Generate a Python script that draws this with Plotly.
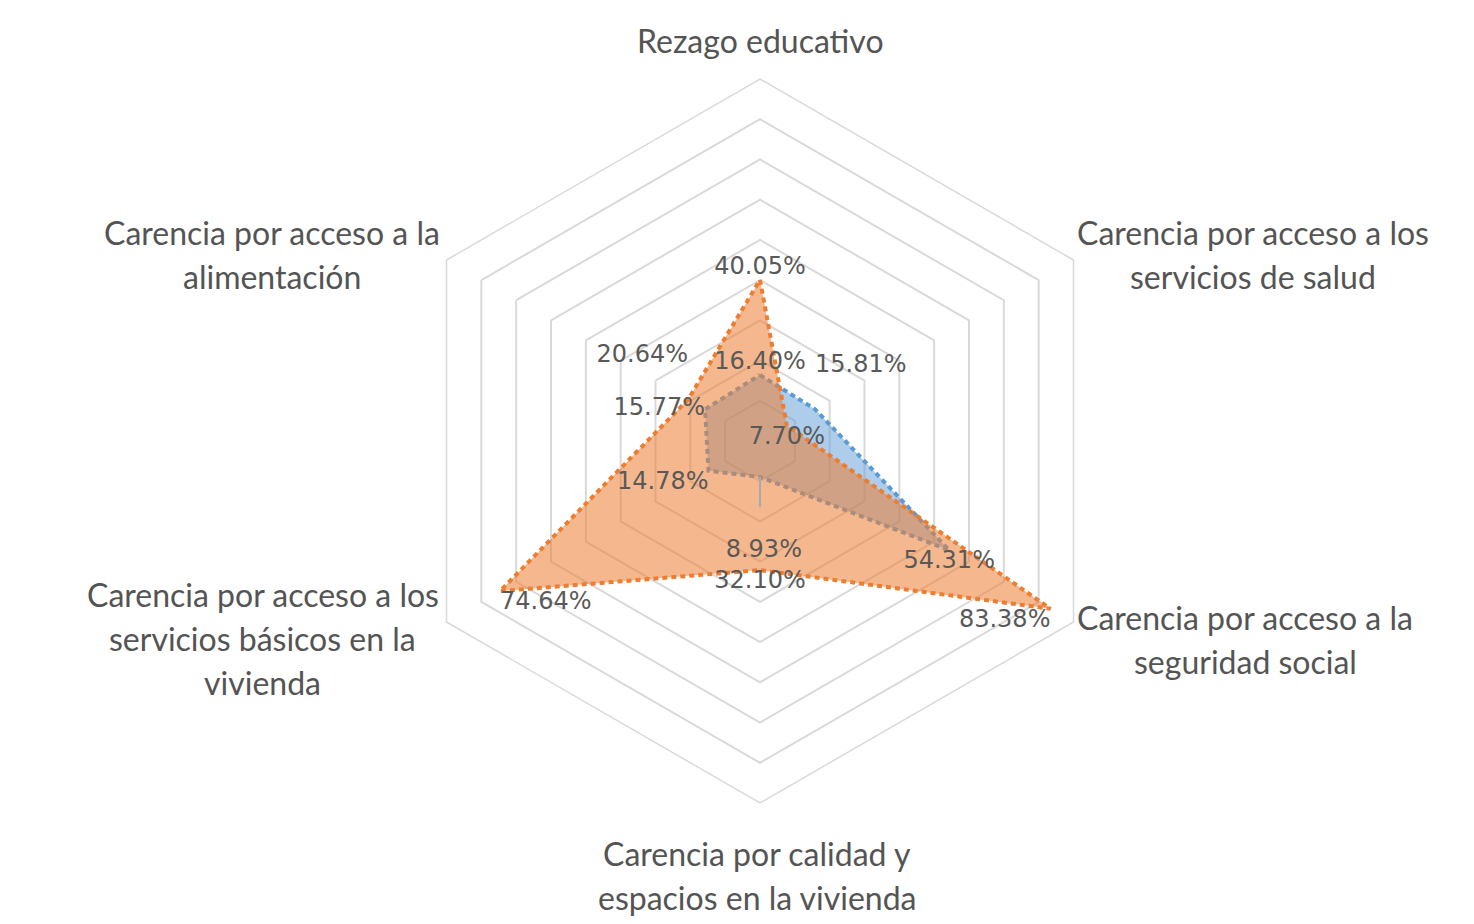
import plotly.graph_objects as go

categories = [
    "Rezago educativo",
    "Carencia por acceso a los servicios de salud",
    "Carencia por acceso a la seguridad social",
    "Carencia por calidad y espacios en la vivienda",
    "Carencia por acceso a los servicios básicos en la vivienda",
    "Carencia por acceso a la alimentación",
]
category_lines = [
    ["Rezago educativo"],
    ["Carencia por acceso a los", "servicios de salud"],
    ["Carencia por acceso a la", "seguridad social"],
    ["Carencia por calidad y", "espacios en la vivienda"],
    ["Carencia por acceso a los", "servicios básicos en la", "vivienda"],
    ["Carencia por acceso a la", "alimentación"],
]
serie_azul = [16.40, 15.81, 54.31, 8.93, 14.78, 15.77]
serie_naranja = [40.05, 7.70, 83.38, 32.10, 74.64, 20.64]
radial_ticks = [10, 20, 30, 40, 50, 60, 70, 80, 90]

# layout / styling (not data)
W, H = 1474, 924
CX, CY, R = 752, 433, 362
label_pos = [(752, 32), (1245, 224), (1237, 609), (749, 845), (255, 586), (264, 224)]
LINE_GAP = 44
pos_azul = ["top center", "top right", "bottom center", "bottom center", "bottom left", "middle left"]
pre_azul = ["", "", "", "<br> <br> ", "", ""]
suf_azul = ["", "<br> ", "", "", "", ""]
pos_naranja = ["top center", "bottom center", "bottom left", "bottom center", "bottom right", "top left"]
pre_naranja = ["", "", "", "", "", ""]
suf_naranja = ["", "", "", "", "", "<br> "]
LEADER_LEN = 7.5

def closed(v):
    return list(v) + [v[0]]

fig = go.Figure()
fig.add_trace(go.Scatterpolar(
    r=closed(serie_azul), theta=closed(categories), mode="lines",
    fill="toself", fillcolor="rgba(91,155,213,0.5)",
    line=dict(color="#5b9bd5", width=4, dash="5px,4px"),
    hoverinfo="skip", showlegend=False))
fig.add_trace(go.Scatterpolar(
    r=closed(serie_naranja), theta=closed(categories), mode="lines",
    fill="toself", fillcolor="rgba(237,125,49,0.55)",
    line=dict(color="#ed7d31", width=4, dash="5px,4px"),
    hoverinfo="skip", showlegend=False))
# leader line for the 8.93% label
fig.add_trace(go.Scatterpolar(
    r=[serie_azul[3], serie_azul[3] + LEADER_LEN], theta=[categories[3]] * 2,
    mode="lines", line=dict(color="#a6abb2", width=2),
    hoverinfo="skip", showlegend=False))
for vals, pos, pre, suf in ((serie_azul, pos_azul, pre_azul, suf_azul),
                            (serie_naranja, pos_naranja, pre_naranja, suf_naranja)):
    fig.add_trace(go.Scatterpolar(
        r=vals, theta=categories, mode="text",
        text=[f"{p}{v:.2f}%{s}" for v, p, s in zip(vals, pre, suf)], textposition=pos,
        textfont=dict(family="DejaVu Sans", size=24, color="#595959"),
        hoverinfo="skip", showlegend=False))

annotations = []
for lines, (lx, ly) in zip(category_lines, label_pos):
    for i, t in enumerate(lines):
        yy = ly + i * LINE_GAP
        annotations.append(dict(
            text=t, x=lx / W, y=1 - yy / H, xref="paper", yref="paper",
            xanchor="center", yanchor="middle", showarrow=False,
            font=dict(family="Lato", size=32, color="#545454")))

fig.update_layout(
    width=W, height=H,
    margin=dict(l=0, r=0, t=0, b=0),
    paper_bgcolor="white",
    annotations=annotations,
    polar=dict(
        domain=dict(x=[(CX - R) / W, (CX + R) / W], y=[(H - CY - R) / H, (H - CY + R) / H]),
        bgcolor="white",
        gridshape="linear",
        radialaxis=dict(range=[0, 90], tickvals=radial_ticks, showticklabels=False,
                        showline=False, ticks="", gridcolor="#d9d9d9", gridwidth=1.5),
        angularaxis=dict(rotation=90, direction="clockwise", showgrid=False,
                         showticklabels=False,
                         showline=True, linecolor="#d9d9d9", linewidth=1.5, ticks=""),
    ),
)
fig.write_html("out.html")
